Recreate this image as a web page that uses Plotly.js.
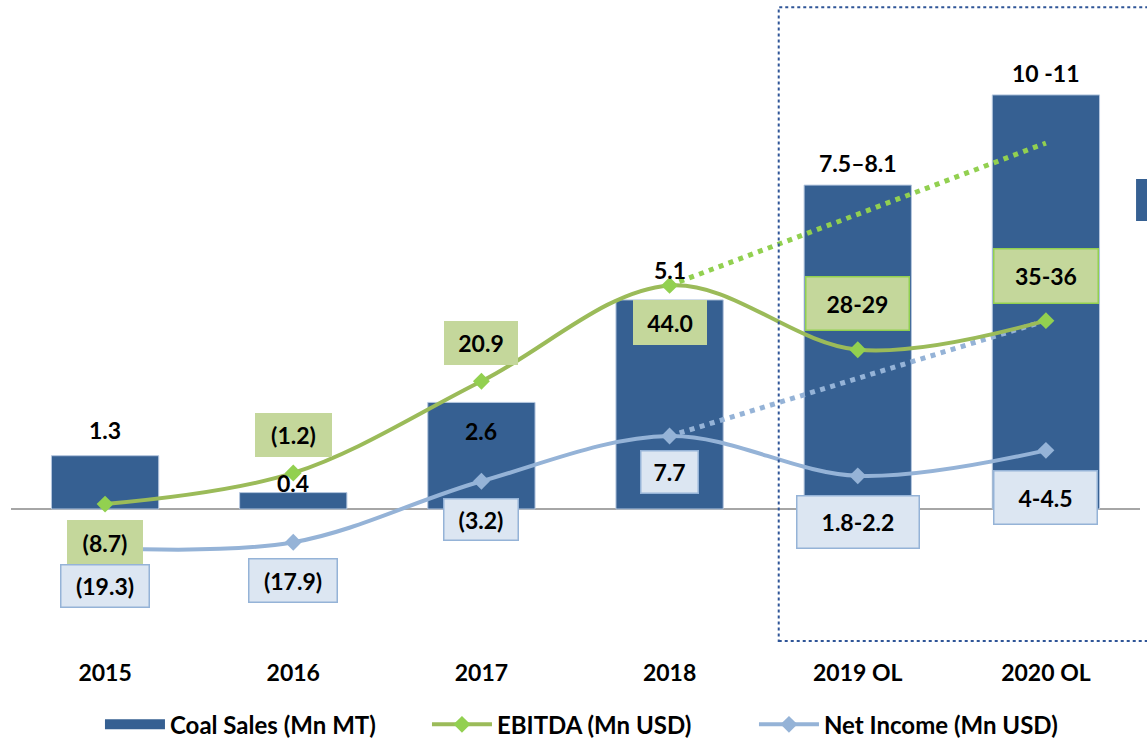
<!DOCTYPE html>
<html>
<head>
<meta charset="utf-8">
<script src="https://cdn.plot.ly/plotly-3.0.1.min.js"></script>
<style>
  html, body { margin: 0; padding: 0; background: #ffffff; }
  #chart { width: 1147px; height: 740px; }
</style>
</head>
<body>
<div id="chart"></div>
<script>
// ---- data ----
const categories   = ['2015', '2016', '2017', '2018', '2019 OL', '2020 OL'];
const coalSales    = [1.3, 0.4, 2.6, 5.1, 7.9, 10.1];
const coalLabels   = ['1.3', '0.4', '2.6', '5.1', '7.5–8.1', '10 -11'];
const ebitda       = [-8.7, -1.2, 20.9, 44.0, 28.5, 35.5];
const ebitdaLabels = ['(8.7)', '(1.2)', '20.9', '44.0', '28-29', '35-36'];
const netIncome    = [-19.3, -17.9, -3.2, 7.7, -1.9, 4.25];
const niLabels     = ['(19.3)', '(17.9)', '(3.2)', '7.7', '1.8-2.2', '4-4.5'];
const trendCats    = ['2018', '2020 OL'];
const ebitdaTrend  = [44.0, 78.3];
const niTrend      = [7.7, 35.5];

// ---- styles ----
const FONT = 'Lato, Carlito, "Liberation Sans", sans-serif';
const BAR_COLOR = '#366092';
const GREEN_LINE = '#9bbb59';
const GREEN_MARK = '#92d050';
const BLUE_LINE = '#95b3d7';
const GREEN_FILL = '#c4d79b';
const BLUE_FILL = '#dce6f2';

// label placement (pixel offsets from the data point) and box sizes
const coalShift   = [26, 10, -29, 30, 22, 22];
const ebitdaShift = [-38, 37.5, 38.5, -37, 46, 44.5];
const ebitdaBox   = [[73, 42], [74, 41], [71, 41], [71, 42], [102, 52], [103, 53]];
const ebitdaBorder = ['#c4d79b', '#c4d79b', '#c4d79b', '#c4d79b', '#92d050', '#92d050'];
const niShift     = [-38, -38, -38, -35.5, -46.5, -47];
const niBox       = [[87, 41], [87, 42], [73, 40], [56, 41], [121, 51], [102, 52]];
const LABEL_SIZE = 23;

const traces = [
  {
    type: 'bar', name: 'Coal Sales (Mn MT)', x: categories, y: coalSales,
    marker: { color: BAR_COLOR, line: { color: '#b4c6de', width: 1 } },
    legendgroup: 'coal', showlegend: false, hoverinfo: 'x+y'
  },
  { // legend key for the bars (wide rectangle like the original)
    type: 'scatter', mode: 'lines', name: 'Coal Sales (Mn MT)', x: [null], y: [null],
    line: { color: BAR_COLOR, width: 15 }, legendgroup: 'coal', hoverinfo: 'skip'
  },
  {
    type: 'scatter', mode: 'lines', x: trendCats, y: ebitdaTrend, yaxis: 'y2',
    line: { color: GREEN_MARK, width: 5, dash: '5px,5.5px' }, showlegend: false, hoverinfo: 'skip'
  },
  {
    type: 'scatter', mode: 'lines', x: trendCats, y: niTrend, yaxis: 'y2',
    line: { color: BLUE_LINE, width: 5, dash: '5px,5.5px' }, showlegend: false, hoverinfo: 'skip'
  },
  {
    type: 'scatter', mode: 'lines+markers', name: 'EBITDA (Mn USD)', x: categories, y: ebitda, yaxis: 'y2',
    line: { color: GREEN_LINE, width: 4, shape: 'spline', smoothing: 1 },
    marker: { symbol: 'diamond', size: 13, color: GREEN_MARK }
  },
  {
    type: 'scatter', mode: 'lines+markers', name: 'Net Income (Mn USD)', x: categories, y: netIncome, yaxis: 'y2',
    line: { color: BLUE_LINE, width: 4, shape: 'spline', smoothing: 1 },
    marker: { symbol: 'diamond', size: 13, color: BLUE_LINE }
  }
];

const annotations = [];
categories.forEach((c, i) => {
  annotations.push({
    x: i, y: coalSales[i], xref: 'x', yref: 'y', yshift: coalShift[i],
    text: coalLabels[i], showarrow: false,
    font: { family: FONT, size: LABEL_SIZE, color: '#000000', weight: 'bold' }
  });
  annotations.push({
    x: i, y: ebitda[i], xref: 'x', yref: 'y2', yshift: ebitdaShift[i],
    text: ebitdaLabels[i], showarrow: false,
    width: ebitdaBox[i][0], height: ebitdaBox[i][1], borderpad: 0,
    bgcolor: GREEN_FILL, bordercolor: ebitdaBorder[i], borderwidth: 1.5,
    font: { family: FONT, size: LABEL_SIZE, color: '#000000', weight: 'bold' }
  });
  annotations.push({
    x: i, y: netIncome[i], xref: 'x', yref: 'y2', yshift: niShift[i],
    text: niLabels[i], showarrow: false,
    width: niBox[i][0], height: niBox[i][1], borderpad: 0,
    bgcolor: BLUE_FILL, bordercolor: BLUE_LINE, borderwidth: 1.5,
    font: { family: FONT, size: LABEL_SIZE, color: '#000000', weight: 'bold' }
  });
});

const layout = {
  width: 1147, height: 740,
  margin: { l: 11, r: 7, t: 0, b: 90, autoexpand: false },
  paper_bgcolor: '#ffffff', plot_bgcolor: '#ffffff',
  font: { family: FONT, color: '#000000' },
  bargap: 0.43,
  xaxis: {
    type: 'category', range: [-0.5, 5.5], showline: false, showgrid: false, ticks: '',
    tickfont: { family: FONT, size: 23, color: '#000000', weight: 'bold' },
    ticklabelstandoff: 7, fixedrange: true
  },
  yaxis: {
    range: [-3.439, 12.415], showgrid: false, showticklabels: false, ticks: '',
    zeroline: true, zerolinecolor: '#a6a6a6', zerolinewidth: 1.5, fixedrange: true
  },
  yaxis2: {
    range: [-43.86, 112.77], overlaying: 'y', side: 'right', visible: false, fixedrange: true
  },
  showlegend: true,
  legend: {
    orientation: 'h', x: 0.0788, xanchor: 'left', y: -0.115, yanchor: 'middle',
    font: { family: FONT, size: 24, color: '#000000', weight: 'bold' },
    itemwidth: 60, entrywidth: 252, entrywidthmode: 'pixels', traceorder: 'normal'
  },
  shapes: [
    { type: 'rect', xref: 'paper', yref: 'paper', x0: 0.680, x1: 1.012, y0: 0.0138, y1: 0.989,
      line: { color: '#2f5597', width: 2, dash: 'dot' }, fillcolor: 'rgba(0,0,0,0)', layer: 'above' },
    { type: 'rect', xref: 'paper', yref: 'paper', x0: 0.9965, x1: 1.012, y0: 0.66, y1: 0.7246,
      line: { width: 0 }, fillcolor: BAR_COLOR, layer: 'above' }
  ],
  annotations: annotations
};

Plotly.newPlot('chart', traces, layout, { displayModeBar: false, staticPlot: true });
</script>
</body>
</html>
